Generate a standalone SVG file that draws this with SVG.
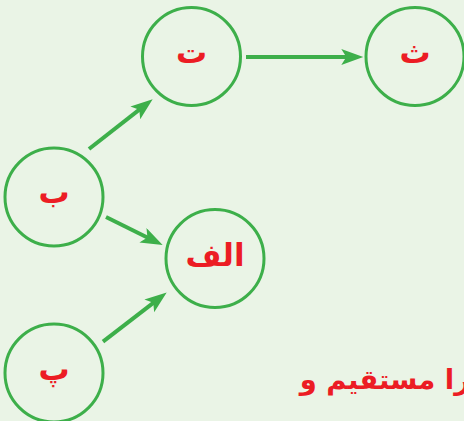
<svg xmlns="http://www.w3.org/2000/svg" width="464" height="421" viewBox="0 0 464 421">
<style>
.node circle{fill:#eaf4e6;stroke:#3daf4a;stroke-width:3}
.node text{fill:#ec1c24;font-family:"DejaVu Sans",sans-serif;font-weight:bold;font-size:31px;text-anchor:middle}
.edge{stroke:#3daf4a;stroke-width:4;fill:none}
.note{fill:#ec1c24;font-family:"DejaVu Sans",sans-serif;font-weight:bold;font-size:27.5px}
</style>
<defs>
<marker id="ah" markerUnits="userSpaceOnUse" markerWidth="24" markerHeight="18" viewBox="0 0 24 18" refX="10" refY="8" orient="auto">
<path d="M0,0 L22,8 L0,16 L5,8 z" fill="#3daf4a"/>
</marker>
</defs>
<rect width="464" height="421" fill="#eaf4e6"/>
<g id="connectors">
<line class="edge" x1="89" y1="149" x2="143.2" y2="106.7" marker-end="url(#ah)"/>
<line class="edge" x1="106" y1="217" x2="151.9" y2="239.7" marker-end="url(#ah)"/>
<line class="edge" x1="103" y1="341.7" x2="157.2" y2="299.8" marker-end="url(#ah)"/>
<line class="edge" x1="246" y1="57" x2="351.3" y2="57" marker-end="url(#ah)"/>
</g>
<g id="node-te" class="node"><circle cx="191.5" cy="56.5" r="49"/><text x="191.5" y="63">ت</text></g>
<g id="node-se" class="node"><circle cx="415" cy="56.5" r="49"/><text x="415" y="63">ث</text></g>
<g id="node-be" class="node"><circle cx="54" cy="197" r="49"/><text x="54" y="203">ب</text></g>
<g id="node-alef" class="node"><circle cx="215" cy="258.5" r="49"/><text x="215" y="266">الف</text></g>
<g id="node-pe" class="node"><circle cx="54" cy="373" r="49"/><text x="54" y="380">پ</text></g>
<text class="note" x="470" y="389" direction="rtl" text-anchor="start">را مستقیم و</text>
</svg>
